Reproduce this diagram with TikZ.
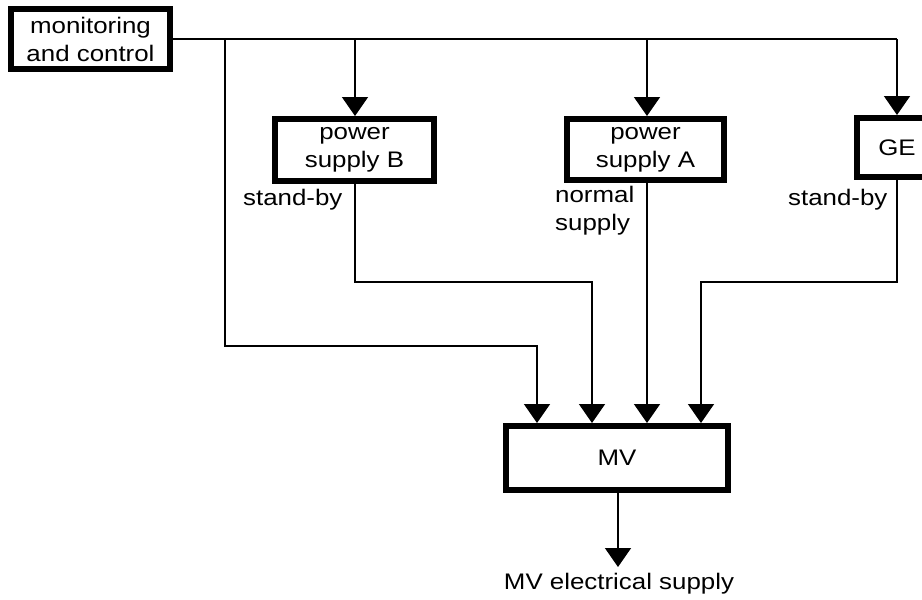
\documentclass[tikz,border=0pt]{standalone}
\usepackage{fontspec}
\setmainfont{Liberation Sans}[FakeStretch=1.15]
\usetikzlibrary{arrows.meta}
\begin{document}
\begin{tikzpicture}[x=1pt,y=-1pt,
  blk/.style={draw,line width=6pt,fill=white,inner sep=0pt,align=center,font=\fontsize{22.5}{28}\selectfont},
  lbl/.style={inner sep=0pt,align=left,font=\fontsize{22.5}{28}\selectfont},
  conn/.style={line width=1.6pt},
  arr/.style={conn,-{Triangle[width=26pt,length=19pt]}}]
\useasboundingbox (0,0) rectangle (922,600);
\clip (0,0) rectangle (922,600);
\node[blk,minimum width=159pt,minimum height=60pt] (mc) at (90.5,39) {monitoring\\and control};
\node[blk,minimum width=159pt,minimum height=62pt] (pb) at (354.5,149.5) {power\\supply B};
\node[blk,minimum width=157pt,minimum height=61pt] (pa) at (645.5,149.5) {power\\supply A};
\node[blk,minimum width=80pt,minimum height=59pt] (ge) at (897,147.5) {GE};
\node[blk,minimum width=222pt,minimum height=64pt] (mv) at (617,458) {MV};
\node[lbl,anchor=base west] (l1) at (243,205) {stand-by};
\node[lbl,anchor=north west] (l2) at (555,186) {normal\\supply};
\node[lbl,anchor=base west] (l3) at (788,205) {stand-by};
\node[lbl,anchor=base] (out) at (619,589) {MV electrical supply};
\coordinate (top) at (897,39);
% control bus
\draw[conn] (mc.east |- top) -- (top);
\draw[arr] (top) -- (ge.north);
\draw[arr] (355,39) -- (355,116);
\draw[arr] (647,39) -- (647,116);
\draw[arr] (225,39) -- (225,346) -- (537,346) -- (537,423);
% supplies to MV
\draw[arr] (pb.south -| 355,0) -- (355,282) -- (592,282) -- (592,423);
\draw[arr] (pa.south -| 647,0) -- (647,423);
\draw[arr] (ge.south) -- (897,282) -- (701,282) -- (701,423);
\draw[arr] (mv.south -| 618,0) -- (618,567);
\end{tikzpicture}
\end{document}
